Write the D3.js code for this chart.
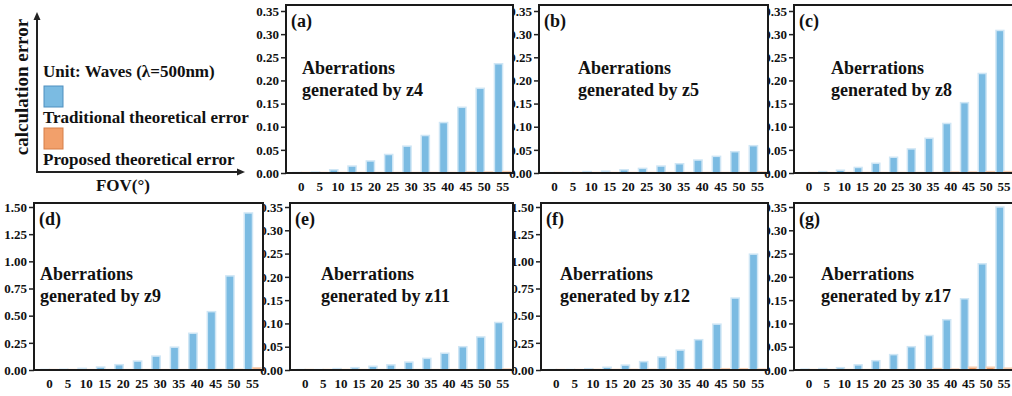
<!DOCTYPE html>
<html>
<head>
<meta charset="utf-8">
<script src="https://cdn.jsdelivr.net/npm/d3@7"></script>
<style>
  body { margin: 0; background: #fff; }
  svg { display: block; font-family: "Liberation Serif", "Times New Roman", serif; font-weight: bold; }
</style>
</head>
<body>
<div id="chart"></div>
<script>
// FOV categories (degrees)
const fov = [0, 5, 10, 15, 20, 25, 30, 35, 40, 45, 50, 55];

// traditional / proposed theoretical error, waves
const tradZ4  = [0.001, 0.002, 0.007, 0.015, 0.026, 0.040, 0.058, 0.081, 0.109, 0.142, 0.183, 0.236];
const propZ4  = [0.001, 0.001, 0.001, 0.001, 0.001, 0.001, 0.001, 0.001, 0.001, 0.002, 0.002, 0.003];
const tradZ5  = [0.001, 0.001, 0.003, 0.004, 0.007, 0.010, 0.015, 0.020, 0.028, 0.036, 0.046, 0.059];
const propZ5  = [0.001, 0.001, 0.001, 0.001, 0.001, 0.001, 0.001, 0.001, 0.001, 0.001, 0.001, 0.002];
const tradZ8  = [0.001, 0.003, 0.006, 0.012, 0.021, 0.034, 0.052, 0.075, 0.107, 0.152, 0.215, 0.308];
const propZ8  = [0.001, 0.001, 0.001, 0.001, 0.001, 0.001, 0.001, 0.001, 0.002, 0.002, 0.003, 0.003];
const tradZ9  = [0.005, 0.007, 0.015, 0.027, 0.049, 0.082, 0.128, 0.210, 0.338, 0.537, 0.866, 1.445];
const propZ9  = [0.004, 0.004, 0.004, 0.004, 0.004, 0.004, 0.004, 0.004, 0.005, 0.005, 0.006, 0.020];
const tradZ11 = [0.001, 0.001, 0.003, 0.005, 0.008, 0.011, 0.017, 0.025, 0.036, 0.050, 0.071, 0.102];
const propZ11 = [0.001, 0.001, 0.001, 0.001, 0.001, 0.001, 0.001, 0.001, 0.001, 0.001, 0.001, 0.002];
const tradZ12 = [0.004, 0.005, 0.012, 0.025, 0.045, 0.077, 0.120, 0.183, 0.279, 0.422, 0.662, 1.066];
const propZ12 = [0.004, 0.004, 0.005, 0.005, 0.006, 0.006, 0.007, 0.007, 0.008, 0.012, 0.012, 0.008];
const tradZ17 = [0.002, 0.003, 0.005, 0.011, 0.020, 0.033, 0.050, 0.074, 0.108, 0.153, 0.228, 0.350];
const propZ17 = [0.001, 0.001, 0.001, 0.001, 0.001, 0.001, 0.001, 0.003, 0.002, 0.006, 0.006, 0.004];

// y tick labels
const ticksSmall = [0, 0.05, 0.10, 0.15, 0.20, 0.25, 0.30, 0.35];
const ticksLarge = [0, 0.25, 0.50, 0.75, 1.00, 1.25, 1.50];

const panelTags  = ["(a)", "(b)", "(c)", "(d)", "(e)", "(f)", "(g)"];
const panelZ     = ["z4", "z5", "z8", "z9", "z11", "z12", "z17"];

const legendTitle = "Unit: Waves (λ=500nm)";
const seriesNames = ["Traditional theoretical error", "Proposed theoretical error"];

const W = 1012, H = 396;
const blue = "#7bbbe2", orange = "#f2a06b";

// panel boxes (left, right, top, bottom, y of max tick)
const topRow = { top: 5, bottom: 173, yMax: 11 };
const botRow = { top: 203, bottom: 370, yMax: 207 };
const panels = [
  { tag: 0, trad: tradZ4,  prop: propZ4,  ticks: ticksSmall, l: 286, r: 513, row: topRow, tx: 16, ty: 69 },
  { tag: 1, trad: tradZ5,  prop: propZ5,  ticks: ticksSmall, l: 539, r: 768, row: topRow, tx: 39, ty: 69 },
  { tag: 2, trad: tradZ8,  prop: propZ8,  ticks: ticksSmall, l: 794, r: 1014, row: topRow, tx: 37, ty: 69 },
  { tag: 3, trad: tradZ9,  prop: propZ9,  ticks: ticksLarge, l: 34,  r: 263, row: botRow, tx: 6,  ty: 77 },
  { tag: 4, trad: tradZ11, prop: propZ11, ticks: ticksSmall, l: 290, r: 513, row: botRow, tx: 31, ty: 77 },
  { tag: 5, trad: tradZ12, prop: propZ12, ticks: ticksLarge, l: 541, r: 768, row: botRow, tx: 19, ty: 77 },
  { tag: 6, trad: tradZ17, prop: propZ17, ticks: ticksSmall, l: 794, r: 1014, row: botRow, tx: 27, ty: 77 }
];

const svg = d3.select("#chart").append("svg")
  .attr("width", W).attr("height", H);

// build scales first so the y labels can sit under the neighbouring frames
panels.forEach(p => {
  p.x = d3.scaleBand().domain(fov).range([p.l + 6, p.r - 1]).paddingInner(0.08).paddingOuter(0.05);
  p.xs = d3.scaleBand().domain(["trad", "prop"]).range([0, p.x.bandwidth()]).padding(0.02);
  p.y = d3.scaleLinear().domain([0, d3.max(p.ticks)]).range([p.row.bottom, p.row.yMax]);
});

// y axes (labels + ticks)
panels.forEach(p => {
  const g = svg.append("g").attr("transform", `translate(${p.l},0)`)
    .call(d3.axisLeft(p.y).tickValues(p.ticks).tickSize(5).tickPadding(2).tickFormat(d3.format(".2f")));
  g.select(".domain").remove();
  g.selectAll(".tick line").attr("stroke", "#222").attr("stroke-width", 1.5);
  g.selectAll(".tick text").attr("font-size", 13).attr("font-family", "Liberation Serif").attr("font-weight", "bold").attr("fill", "#111");
});

panels.forEach(p => {
  const g = svg.append("g");
  const top = p.row.top, bottom = p.row.bottom;
  g.append("rect").attr("x", p.l).attr("y", top).attr("width", p.r - p.l).attr("height", bottom - top).attr("fill", "#fff");

  const groups = g.selectAll(".grp").data(fov).join("g")
    .attr("transform", d => `translate(${p.x(d)},0)`);
  groups.append("rect")
    .attr("x", p.xs("trad")).attr("width", p.xs.bandwidth())
    .attr("y", (d, i) => p.y(p.trad[i])).attr("height", (d, i) => bottom - p.y(p.trad[i]))
    .attr("fill", blue).attr("stroke", "#cfe6f5").attr("stroke-width", 1.5);
  groups.append("rect")
    .attr("x", p.xs("prop")).attr("width", p.xs.bandwidth())
    .attr("y", (d, i) => p.y(p.prop[i])).attr("height", (d, i) => bottom - p.y(p.prop[i]))
    .attr("fill", orange).attr("stroke", "#f7cfb3").attr("stroke-width", 1.5);

  // x labels
  const xa = g.append("g").attr("transform", `translate(0,${bottom})`)
    .call(d3.axisBottom(p.x).tickSize(0).tickPadding(9));
  xa.select(".domain").remove();
  xa.selectAll(".tick text").attr("font-size", 13).attr("font-family", "Liberation Serif").attr("font-weight", "bold").attr("fill", "#111");

  // frame
  g.append("rect").attr("x", p.l).attr("y", top).attr("width", p.r - p.l).attr("height", bottom - top)
    .attr("fill", "none").attr("stroke", "#1a1a1a").attr("stroke-width", 2);

  g.append("text").attr("x", p.l + 5).attr("y", top + 22).attr("font-size", 18).attr("fill", "#111")
    .text(panelTags[p.tag]);
  const t = g.append("text").attr("font-size", 18).attr("fill", "#111");
  t.append("tspan").attr("x", p.l + p.tx).attr("y", top + p.ty).text("Aberrations");
  t.append("tspan").attr("x", p.l + p.tx).attr("y", top + p.ty + 22).text("generated by " + panelZ[p.tag]);
});

// legend / axes sketch
const lg = svg.append("g");
lg.append("line").attr("x1", 37).attr("y1", 172).attr("x2", 37).attr("y2", 18).attr("stroke", "#222").attr("stroke-width", 2);
lg.append("line").attr("x1", 36).attr("y1", 172).attr("x2", 240).attr("y2", 172).attr("stroke", "#222").attr("stroke-width", 2);
lg.append("path").attr("d", "M37,12 L33.5,20 L40.5,20 Z").attr("fill", "#222");
lg.append("path").attr("d", "M245,172 L237,168.5 L237,175.5 Z").attr("fill", "#222");
lg.append("text").attr("transform", "translate(28,87) rotate(-90)").attr("text-anchor", "middle")
  .attr("font-size", 19).attr("fill", "#111").text("calculation error");
lg.append("text").attr("x", 43).attr("y", 77).attr("font-size", 17).attr("fill", "#111").text(legendTitle);
lg.append("rect").attr("x", 44).attr("y", 86).attr("width", 19).attr("height", 21)
  .attr("fill", blue).attr("stroke", "#4f8fbf").attr("stroke-width", 1);
lg.append("text").attr("x", 43).attr("y", 123).attr("font-size", 17).attr("fill", "#111").text(seriesNames[0]);
lg.append("rect").attr("x", 44).attr("y", 128).attr("width", 19).attr("height", 21)
  .attr("fill", orange).attr("stroke", "#d67e48").attr("stroke-width", 1);
lg.append("text").attr("x", 43).attr("y", 165).attr("font-size", 17).attr("fill", "#111").text(seriesNames[1]);
lg.append("text").attr("x", 123).attr("y", 191).attr("text-anchor", "middle").attr("font-size", 17).attr("fill", "#111").text("FOV(°)");
</script>
</body>
</html>
